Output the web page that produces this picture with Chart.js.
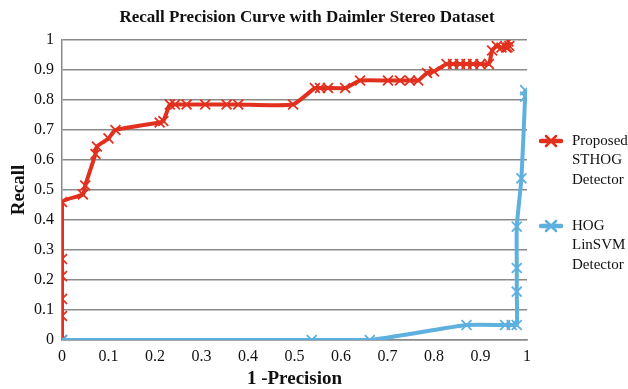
<!DOCTYPE html>
<html>
<head>
<meta charset="utf-8">
<script src="https://cdn.jsdelivr.net/npm/chart.js@4/dist/chart.umd.min.js"></script>
<style>
  html,body{margin:0;padding:0;background:#fff;}
  #wrap{width:628px;height:389px;position:relative;}
</style>
</head>
<body>
<div id="wrap"><canvas id="c" width="628" height="389"></canvas></div>
<script>
const chartTitle = "Recall Precision Curve with Daimler Stereo Dataset";
const xTitle = "1 -Precision";
const yTitle = "Recall";
const seriesNames = [["Proposed","STHOG","Detector"],["HOG","LinSVM","Detector"]];
const tickValues = [0,0.1,0.2,0.3,0.4,0.5,0.6,0.7,0.8,0.9,1];

const sthogX = [0,0,0,0,0,0,0.045,0.05,0.072,0.075,0.10,0.115,0.21,0.218,0.232,0.243,0.268,0.308,0.354,0.379,0.497,0.544,0.555,0.572,0.609,0.641,0.701,0.727,0.748,0.766,0.785,0.80,0.827,0.841,0.856,0.870,0.884,0.90,0.918,0.925,0.935,0.945,0.955,0.962,0.958,0.96];
const sthogY = [0,0.08,0.137,0.213,0.27,0.46,0.485,0.515,0.62,0.645,0.672,0.70,0.725,0.73,0.785,0.785,0.785,0.785,0.785,0.785,0.785,0.84,0.84,0.84,0.84,0.865,0.865,0.865,0.865,0.865,0.89,0.895,0.92,0.92,0.92,0.92,0.92,0.92,0.92,0.965,0.98,0.975,0.975,0.98,0.975,0.995];

const hogX = [0,0.537,0.662,0.87,0.953,0.967,0.978,0.978,0.978,0.978,0.988,0.996,0.996];
const hogY = [0,0,0,0.05,0.05,0.05,0.05,0.161,0.24,0.378,0.539,0.811,0.833];

const RED = '#E2301F';
const BLUE = '#5EB0DE';
const SERIF = '"Liberation Serif", "DejaVu Serif", serif';

function pts(xs, ys){ return xs.map((x,i)=>({x:x, y:ys[i]})); }

const legendPlugin = {
  id: 'customLegend',
  afterDraw(chart){
    const ctx = chart.ctx;
    const items = [
      {color: RED, y: 141, lines: seriesNames[0]},
      {color: BLUE, y: 226, lines: seriesNames[1]}
    ];
    ctx.save();
    items.forEach(it=>{
      ctx.strokeStyle = it.color;
      ctx.lineWidth = 4.5;
      ctx.lineCap = 'round';
      ctx.beginPath(); ctx.moveTo(541, it.y); ctx.lineTo(561, it.y); ctx.stroke();
      ctx.lineWidth = 2.5;
      const s = 5;
      ctx.beginPath();
      ctx.moveTo(551-s, it.y-s); ctx.lineTo(551+s, it.y+s);
      ctx.moveTo(551-s, it.y+s); ctx.lineTo(551+s, it.y-s);
      ctx.stroke();
      ctx.fillStyle = '#111';
      ctx.font = '15px ' + SERIF;
      ctx.textBaseline = 'middle';
      ctx.textAlign = 'left';
      it.lines.forEach((t,i)=>ctx.fillText(t, 572, it.y + i*19.5));
    });
    ctx.restore();
  }
};

new Chart(document.getElementById('c'), {
  type: 'scatter',
  data: {
    datasets: [
      {
        label: seriesNames[0].join(' '),
        data: pts(sthogX, sthogY),
        showLine: true,
        borderColor: RED,
        backgroundColor: RED,
        borderWidth: 4,
        tension: 0.15,
        pointStyle: 'crossRot',
        pointRadius: 7,
        pointBorderWidth: 1.8,
        pointBorderColor: RED,
        order: 1
      },
      {
        label: seriesNames[1].join(' '),
        data: pts(hogX, hogY),
        showLine: true,
        borderColor: BLUE,
        backgroundColor: BLUE,
        borderWidth: 4,
        tension: 0.15,
        pointStyle: 'crossRot',
        pointRadius: 7,
        pointBorderWidth: 1.8,
        pointBorderColor: BLUE,
        order: 0
      }
    ]
  },
  options: {
    responsive: false,
    animation: false,
    devicePixelRatio: 1,
    layout: { padding: { top: 40, right: 101, bottom: 0, left: 0 } },
    plugins: {
      legend: { display: false },
      tooltip: { enabled: false },
      title: { display: false }
    },
    scales: {
      x: {
        type: 'linear',
        min: 0, max: 1,
        afterBuildTicks(scale){ scale.ticks = tickValues.map(v=>({value:v})); },
        afterFit(scale){ scale.height = 49; },
        grid: { display: false, drawTicks: false },
        border: { display: true, color: '#8a8a8a', width: 1.5 },
        ticks: {
          padding: 7,
          color: '#111',
          font: { family: SERIF, size: 16 },
          maxRotation: 0,
          callback: v => String(Math.round(v*10)/10)
        },
        title: {
          display: true, text: xTitle, color: '#111',
          font: { family: SERIF, size: 19, weight: 'bold', lineHeight: 1 },
          padding: { top: 0, bottom: 0 }
        }
      },
      y: {
        type: 'linear',
        min: 0, max: 1,
        afterBuildTicks(scale){ scale.ticks = tickValues.map(v=>({value:v})); },
        afterFit(scale){ scale.width = 62; },
        grid: { display: true, color: '#8a8a8a', lineWidth: 1.5, drawTicks: false },
        border: { display: true, color: '#8a8a8a', width: 1.5 },
        ticks: {
          padding: 8,
          color: '#111',
          font: { family: SERIF, size: 16 },
          callback: v => String(Math.round(v*10)/10)
        },
        title: {
          display: true, text: yTitle, color: '#111',
          font: { family: SERIF, size: 19, weight: 'bold', lineHeight: 1 },
          padding: { top: 10, bottom: 0 }
        }
      }
    }
  },
  plugins: [legendPlugin, {
    id: 'mainTitle',
    afterDraw(chart){
      const ctx = chart.ctx;
      ctx.save();
      ctx.fillStyle = '#111';
      ctx.font = 'bold 17px ' + SERIF;
      ctx.textAlign = 'center';
      ctx.textBaseline = 'middle';
      ctx.fillText(chartTitle, 307, 18);
      ctx.restore();
    }
  }]
});
</script>
</body>
</html>
